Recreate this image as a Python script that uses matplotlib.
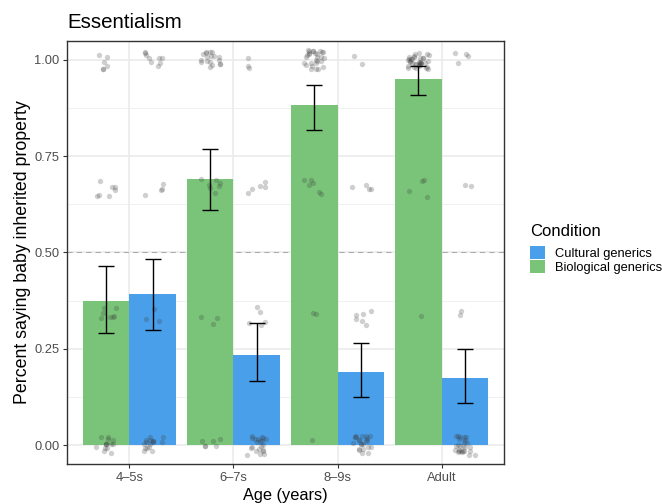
import numpy as np
import matplotlib
matplotlib.use('Agg')
import matplotlib.pyplot as plt
from matplotlib.patches import Patch

plt.rcParams['font.family'] = ['Liberation Sans', 'DejaVu Sans']

# =========================
# Data
# =========================
ages = ['4–5s', '6–7s', '8–9s', 'Adult']
conditions = ['Cultural generics', 'Biological generics']
colors = {'Cultural generics': '#4A9FEA', 'Biological generics': '#7AC47A'}

# bar means and error bar limits
bio_mean = [0.374, 0.691, 0.883, 0.951]
bio_low = [0.291, 0.609, 0.817, 0.909]
bio_high = [0.466, 0.768, 0.934, 0.984]

cult_mean = [0.392, 0.234, 0.190, 0.175]
cult_low = [0.300, 0.166, 0.125, 0.108]
cult_high = [0.483, 0.316, 0.266, 0.249]

# individual participant scores: counts at 0, 1/3, 2/3, 1
levels = [0, 1 / 3, 2 / 3, 1]
bio_counts = [[14, 7, 7, 6], [6, 3, 7, 18], [1, 2, 6, 28], [0, 1, 4, 36]]
cult_counts = [[16, 3, 4, 9], [21, 5, 5, 3], [22, 6, 4, 2], [26, 2, 2, 4]]


def jit(k, salt):
    # deterministic jitter in [-0.5, 0.5)
    v = np.sin(k * 12.9898 + salt * 78.233) * 43758.5453
    return v - np.floor(v) - 0.5


# =========================
# Plot
# =========================
fig = plt.figure(figsize=(6.62, 5.04), dpi=100)
ax = fig.add_axes([0.1012, 0.0794, 0.6601, 0.8393])

x = np.arange(1, len(ages) + 1)
w = 0.45
dodge = {'Biological generics': -w / 2, 'Cultural generics': w / 2}

# grid
for yv in [0.125, 0.375, 0.625, 0.875]:
    ax.axhline(yv, color='#F0F0F0', lw=0.7, zorder=0)
for yv in [0, 0.25, 0.5, 0.75, 1.0]:
    ax.axhline(yv, color='#EBEBEB', lw=1.2, zorder=0)
for xv in x:
    ax.axvline(xv, color='#EBEBEB', lw=1.2, zorder=0)

ax.bar(x + dodge['Biological generics'], bio_mean, width=w,
       color=colors['Biological generics'], zorder=2)
ax.bar(x + dodge['Cultural generics'], cult_mean, width=w,
       color=colors['Cultural generics'], zorder=2)

ax.axhline(0.5, color='#AAAAAA', lw=0.75, ls=(0, (5, 4)), zorder=1)

# jittered points
k = 0
for cond, counts in [('Biological generics', bio_counts), ('Cultural generics', cult_counts)]:
    for i, row in enumerate(counts):
        px, py = [], []
        for lev, n in zip(levels, row):
            for _ in range(n):
                k += 1
                px.append(x[i] + dodge[cond] + jit(k, 1) * 0.2)
                py.append(lev + jit(k, 2) * 0.05)
        ax.scatter(px, py, s=15, color='#3A3A3A', alpha=0.24,
                   linewidths=0, zorder=3)

# error bars
for means, lo, hi, cond in [(bio_mean, bio_low, bio_high, 'Biological generics'),
                            (cult_mean, cult_low, cult_high, 'Cultural generics')]:
    m = np.array(means)
    yerr = [m - np.array(lo), np.array(hi) - m]
    ax.errorbar(x + dodge[cond], m, yerr=yerr, fmt='none', ecolor='black',
                elinewidth=1.0, capsize=5.5, capthick=1.0, zorder=4)

ax.set_xlim(0.4, 4.6)
ax.set_ylim(-0.049, 1.049)
ax.set_xticks(x)
ax.set_xticklabels(ages)
ax.set_yticks([0, 0.25, 0.5, 0.75, 1.0])
ax.set_yticklabels(['0.00', '0.25', '0.50', '0.75', '1.00'])
ax.tick_params(axis='both', colors='#333333', labelcolor='#4D4D4D',
               labelsize=9.3, length=3, width=0.8, pad=2.5)

for sp in ax.spines.values():
    sp.set_color('#333333')
    sp.set_linewidth(1.0)

ax.set_xlabel('Age (years)', fontsize=11.8, labelpad=3)
ax.set_ylabel('Percent saying baby inherited property', fontsize=12.8, labelpad=2.5)
ax.set_title('Essentialism', fontsize=14.8, loc='left', pad=9.4)

handles = [Patch(facecolor=colors[c], edgecolor='none', label=c) for c in conditions]
leg = fig.legend(handles=handles, title='Condition', loc='upper left',
                 bbox_to_anchor=(530 / 662, 1 - 224 / 504), frameon=False,
                 fontsize=9.3, title_fontsize=12, alignment='left',
                 handlelength=1.16, handleheight=1.16, labelspacing=0.05,
                 handletextpad=0.75, borderpad=0, borderaxespad=0)
leg._legend_box.sep = 5

fig.savefig('out.png', dpi=100)
